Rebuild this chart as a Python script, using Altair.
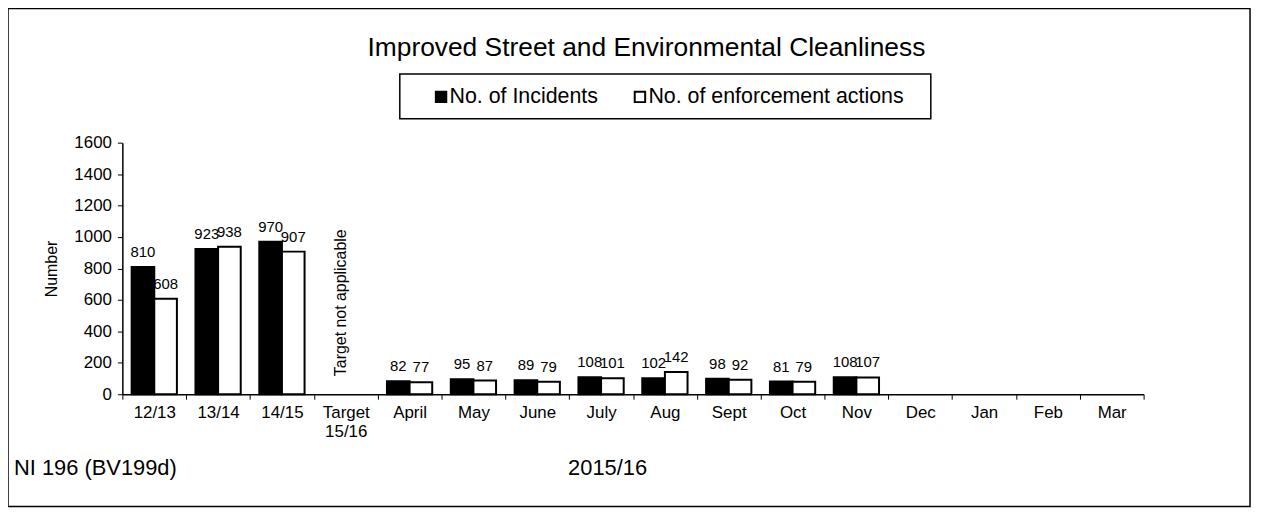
import altair as alt
import pandas as pd

categories = ["12/13", "13/14", "14/15", "Target 15/16", "April", "May", "June",
              "July", "Aug", "Sept", "Oct", "Nov", "Dec", "Jan", "Feb", "Mar"]
incidents = [810, 923, 970, None, 82, 95, 89, 108, 102, 98, 81, 108, None, None, None, None]
enforcement = [608, 938, 907, None, 77, 87, 79, 101, 142, 92, 79, 107, None, None, None, None]
series_names = ["No. of Incidents", "No. of enforcement actions"]
series_colors = ["#000000", "#ffffff"]

rows = []
for c, a, b in zip(categories, incidents, enforcement):
    if a is not None:
        rows.append({"category": c, "series": series_names[0], "value": a})
    if b is not None:
        rows.append({"category": c, "series": series_names[1], "value": b})
df = pd.DataFrame(rows)

FONT = "Liberation Sans"
W, H = 1027, 253

x_enc = alt.X("category:N", sort=categories,
              scale=alt.Scale(domain=categories, paddingInner=0, paddingOuter=0),
              axis=alt.Axis(title=None, labelAngle=0, tickBand="extent",
                            labelFontSize=17, labelFont=FONT, labelColor="black",
                            labelPadding=5, tickSize=5, tickColor="black",
                            domainColor="black", domainWidth=1.5,
                            labelLineHeight=20, labelOverlap=False,
                            labelExpr="datum.label == 'Target 15/16' ? ['Target', '15/16'] : datum.label"))
xoff = alt.XOffset("series:N", sort=series_names,
                   scale=alt.Scale(domain=series_names, paddingOuter=0.41, paddingInner=0))
y_enc = alt.Y("value:Q", scale=alt.Scale(domain=[0, 1600], nice=False),
              axis=alt.Axis(tickCount=8, grid=False, format="d",
                            labelOverlap=False, labelBound=False, labelFlush=False,
                            title="Number", titleFont=FONT, titleFontSize=16,
                            titleFontWeight="normal", titleColor="black",
                            titlePadding=14,
                            labelFontSize=17, labelFont=FONT, labelColor="black",
                            labelPadding=6, tickSize=5, tickColor="black",
                            domainColor="black", domainWidth=1.5))

base = alt.Chart(df)
bars = base.mark_bar(stroke="black", strokeWidth=2).encode(
    x=x_enc, xOffset=xoff, y=y_enc,
    fill=alt.Fill("series:N", scale=alt.Scale(domain=series_names, range=series_colors), legend=None),
)
labels = base.mark_text(baseline="alphabetic", dy=-10, fontSize=15, font=FONT, color="black").encode(
    x=x_enc, xOffset=xoff, y=y_enc, text="value:Q",
)

note_df = pd.DataFrame({"category": ["Target 15/16"], "txt": ["Target not applicable"]})
note = alt.Chart(note_df).mark_text(angle=270, align="center", baseline="middle", dy=-5,
                                    fontSize=16, font=FONT, color="black").encode(
    x=x_enc, y=alt.value(161), text="txt:N")

one = pd.DataFrame({"k": [0]})
# Page coords -> plot coords: subtract (123, 142)
frame = alt.Chart(one).mark_rect(fill="transparent", stroke="black", strokeWidth=1.5).encode(
    x=alt.value(-115), x2=alt.value(1134), y=alt.value(-135), y2=alt.value(366))
title = alt.Chart(one).mark_text(fontSize=26.5, font=FONT, color="black", align="center", baseline="middle").encode(
    x=alt.value(650 - 123), y=alt.value(47 - 142), text=alt.value("Improved Street and Environmental Cleanliness"))
legend_box = alt.Chart(one).mark_rect(fill="white", stroke="black", strokeWidth=1.5).encode(
    x=alt.value(402 - 123), x2=alt.value(936 - 123), y=alt.value(73 - 142), y2=alt.value(118 - 142))
leg_sym1 = alt.Chart(one).mark_square(size=110, stroke="black", strokeWidth=2, opacity=1).encode(
    x=alt.value(443.5 - 123), y=alt.value(96 - 142), fill=alt.value(series_colors[0]))
leg_sym2 = alt.Chart(one).mark_square(size=110, stroke="black", strokeWidth=2, opacity=1).encode(
    x=alt.value(643.5 - 123), y=alt.value(96 - 142), fill=alt.value(series_colors[1]))
leg_txt1 = alt.Chart(one).mark_text(fontSize=21.5, font=FONT, color="black", align="left", baseline="middle").encode(
    x=alt.value(452 - 123), y=alt.value(96 - 142), text=alt.value(series_names[0]))
leg_txt2 = alt.Chart(one).mark_text(fontSize=21.5, font=FONT, color="black", align="left", baseline="middle").encode(
    x=alt.value(652 - 123), y=alt.value(96 - 142), text=alt.value(series_names[1]))
foot1 = alt.Chart(one).mark_text(fontSize=22, font=FONT, color="black", align="left", baseline="alphabetic").encode(
    x=alt.value(14 - 123), y=alt.value(476 - 142), text=alt.value("NI 196 (BV199d)"))
foot2 = alt.Chart(one).mark_text(fontSize=22, font=FONT, color="black", align="center", baseline="alphabetic").encode(
    x=alt.value(611 - 123), y=alt.value(476 - 142), text=alt.value("2015/16"))

chart = alt.layer(frame, title, legend_box, leg_sym1, leg_sym2, leg_txt1, leg_txt2, foot1, foot2,
                  bars, labels, note).properties(
    width=W, height=H,
    autosize=alt.AutoSizeParams(type="none"),
    padding={"left": 115, "top": 134, "right": 111, "bottom": 115},
    background="white",
).configure_view(stroke=None)

chart.save("out.html", embed_options={"renderer": "svg", "actions": False})
